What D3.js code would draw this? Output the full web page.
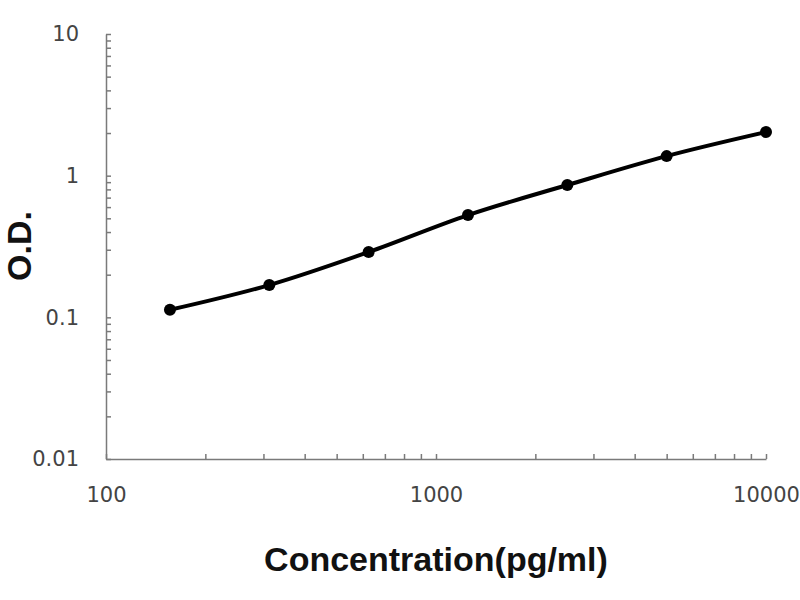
<!DOCTYPE HTML>
<html>
	<head>
		<title>Standard curve</title>
		<meta charset="UTF8">
		<script src="https://d3js.org/d3.v7.min.js"></script>
		<style>
			body
			{
				margin: 0;
				padding: 0;
				background-color: white;
			}
			svg
			{
				display: block;
				background-color: white;
			}
			.axis path,
			.axis line
			{
				stroke: #7a7a7a;
				stroke-width: 1.5;
			}
			.axis text
			{
				font-family: "DejaVu Sans", sans-serif;
				font-size: 21px;
				fill: #444;
			}
			.title
			{
				font-family: "Liberation Sans", Arial, sans-serif;
				font-weight: bold;
				font-size: 34px;
				fill: #111;
			}
		</style>
	</head>

	<body>
		<svg></svg>
	</body>

	<script>
		// values
		const concentrations = [156.25, 312.5, 625, 1250, 2500, 5000, 10000];
		const odValues = [0.113, 0.169, 0.289, 0.527, 0.859, 1.374, 2.03];
		const xDecades = [100, 1000, 10000];
		const yDecades = [0.01, 0.1, 1, 10];
		const xTitle = "Concentration(pg/ml)";
		const yTitle = "O.D.";

		const w = 800;
		const h = 600;

		const svg = d3.select("svg")
		.attr("width", w)
		.attr("height", h);

		const x = d3.scaleLog()
		.domain([100, 10000])
		.range([106, 766]);

		const y = d3.scaleLog()
		.domain([0.01, 10])
		.range([459, 34]);

		// minor ticks 1..9 in each decade
		const minorTicks = decades => {
			let out = [];
			decades.slice(0, -1).forEach(d => {
				for (let k = 1; k < 10; k++) out.push(d * k);
			});
			out.push(decades[decades.length - 1]);
			return out;
		};
		const isDecade = (v, decades) => decades.some(d => Math.abs(v - d) / d < 1e-9);

		svg.append("g")
		.attr("class", "axis")
		.attr("transform", "translate(0," + y(0.01) + ")")
		.call(d3.axisBottom(x)
			.tickValues(minorTicks(xDecades))
			.tickSize(-5)
			.tickSizeOuter(0)
			.tickPadding(28)
			.tickFormat(v => isDecade(v, xDecades) ? d3.format("d")(v) : ""));

		svg.append("g")
		.attr("class", "axis")
		.attr("transform", "translate(" + x(100) + ",0)")
		.call(d3.axisLeft(y)
			.tickValues(minorTicks(yDecades))
			.tickSize(-5)
			.tickSizeOuter(0)
			.tickPadding(27)
			.tickFormat(v => isDecade(v, yDecades) ? String(+v.toPrecision(3)) : ""));

		const pts = concentrations.map((c, i) => [c, odValues[i]]);

		svg.append("path")
		.datum(pts)
		.attr("fill", "none")
		.attr("stroke", "black")
		.attr("stroke-width", 4)
		.attr("stroke-linejoin", "round")
		.attr("d", d3.line()
			.x(d => x(d[0]))
			.y(d => y(d[1]))
			.curve(d3.curveMonotoneX));

		svg.append("g")
		.selectAll("circle")
		.data(pts)
		.enter()
		.append("circle")
		.attr("cx", d => x(d[0]))
		.attr("cy", d => y(d[1]))
		.attr("r", 6)
		.attr("fill", "black");

		svg.append("text")
		.attr("class", "title")
		.attr("x", 436)
		.attr("y", 571)
		.attr("text-anchor", "middle")
		.text(xTitle);

		svg.append("text")
		.attr("class", "title")
		.attr("transform", "translate(31,246) rotate(-90)")
		.attr("text-anchor", "middle")
		.text(yTitle);
	</script>
</html>
